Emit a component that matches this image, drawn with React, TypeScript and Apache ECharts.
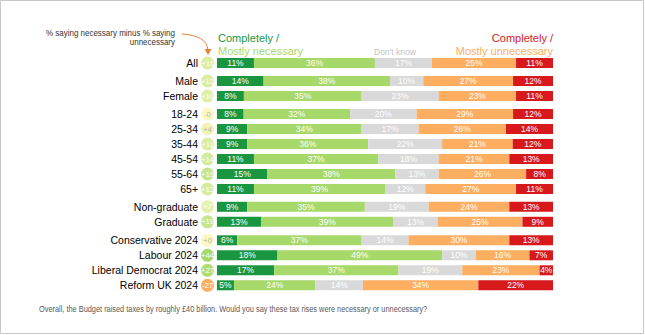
import React, { useEffect, useRef } from "react";
import * as echarts from "echarts";

const categories = [
  "All", "Male", "Female", "18-24", "25-34", "35-44", "45-54", "55-64", "65+",
  "Non-graduate", "Graduate", "Conservative 2024", "Labour 2024", "Liberal Democrat 2024", "Reform UK 2024",
];
const completelyNecessary = [11, 14, 8, 8, 9, 9, 11, 15, 11, 9, 13, 6, 18, 17, 5];
const mostlyNecessary = [36, 38, 35, 32, 34, 36, 37, 38, 39, 35, 39, 37, 49, 37, 24];
const dontKnow = [17, 10, 23, 20, 17, 22, 18, 13, 12, 19, 13, 14, 10, 19, 14];
const mostlyUnnecessary = [25, 27, 23, 29, 26, 21, 21, 26, 27, 24, 25, 30, 16, 23, 34];
const completelyUnnecessary = [11, 12, 11, 12, 14, 12, 13, 8, 11, 13, 9, 13, 7, 4, 22];
const netLabels = ["+11", "+12", "+10", "-0", "+4", "+11", "+14", "+19", "+13", "+7", "+19", "+0", "+44", "+27", "-27"];
const groupSizes = [1, 2, 6, 2, 4];

const FONT = "'Liberation Sans', Arial, sans-serif";
const segments = [
  { name: "Completely necessary", data: completelyNecessary, color: "#1a9641" },
  { name: "Mostly necessary", data: mostlyNecessary, color: "#a6d96a" },
  { name: "Don't know", data: dontKnow, color: "#d9d9d9" },
  { name: "Mostly unnecessary", data: mostlyUnnecessary, color: "#fdae61" },
  { name: "Completely unnecessary", data: completelyUnnecessary, color: "#d7191c" },
];

function hexToRgb(h: string) {
  const v = parseInt(h.slice(1), 16);
  return [(v >> 16) & 255, (v >> 8) & 255, v & 255];
}
function mix(a: string, b: string, t: number) {
  const A = hexToRgb(a), B = hexToRgb(b);
  const c = A.map((x, i) => Math.round(x + (B[i] - x) * t));
  return `rgb(${c[0]},${c[1]},${c[2]})`;
}
function circleColor(n: number) {
  if (n >= 0) return mix("#fbf8c4", "#a6d96a", Math.min(n / 30, 1));
  return mix("#fbf8c4", "#fdae61", Math.min(-n / 25, 1));
}

export default function App() {
  const ref = useRef<HTMLDivElement>(null);
  useEffect(() => {
    if (!ref.current) return;
    const chart = echarts.init(ref.current, undefined, { renderer: "svg" });
    const totals = categories.map((_, i) => segments.reduce((s, seg) => s + seg.data[i], 0));

    const rich: any = {
      n: { fontSize: 10.5, color: "#000", fontFamily: FONT, padding: [0, 3, 0, 0] },
    };
    categories.forEach((_, i) => {
      const n = parseFloat(netLabels[i]);
      rich["c" + i] = {
        width: 13, height: 13, lineHeight: 13, borderRadius: 6.5,
        backgroundColor: circleColor(n),
        color: Math.abs(n) >= 7 ? "#ffffff" : "#b8b8a0",
        fontSize: 8, fontFamily: FONT, align: "center",
      };
    });

    const groupTops = [55.5, 73.5, 106.5, 199.3, 232.8];
    const pitch = 15;
    const grids: any[] = [], xAxes: any[] = [], yAxes: any[] = [], series: any[] = [];
    let start = 0;
    groupSizes.forEach((size, g) => {
      const idx = Array.from({ length: size }, (_, k) => start + k);
      grids.push({ left: 217, right: 92, top: groupTops[g], height: size * pitch });
      xAxes.push({ type: "value", gridIndex: g, min: 0, max: 100, show: false });
      yAxes.push({
        type: "category", gridIndex: g, inverse: true,
        data: idx.map((i) => categories[i]),
        axisLine: { show: false }, axisTick: { show: false }, splitLine: { show: false },
        axisLabel: {
          margin: 3, interval: 0, hideOverlap: false,
          formatter: (v: string) => {
            const i = categories.indexOf(v);
            return `{n|${v}}{c${i}|${netLabels[i]}}`;
          },
          rich,
        },
      });
      segments.forEach((seg) => {
        series.push({
          type: "bar", name: seg.name, xAxisIndex: g, yAxisIndex: g, stack: "s" + g,
          barWidth: 10,
          itemStyle: { color: seg.color },
          data: idx.map((i) => (seg.data[i] * 100) / totals[i]),
          label: {
            show: true, position: "inside", color: "#fff", fontSize: 8.5, fontFamily: FONT,
            formatter: (p: any) => seg.data[idx[p.dataIndex]] + "%",
          },
        });
      });
      start += size;
    });

    chart.setOption({
      animation: false,
      grid: grids, xAxis: xAxes, yAxis: yAxes, series,
      graphic: [
        { type: "rect", shape: { x: 0.5, y: 0.5, width: 643, height: 333 }, style: { fill: "none", stroke: "#c8c8c8", lineWidth: 1 }, silent: true },
        { type: "text", x: 218, y: 38, style: { text: "Completely /", fill: "#1a9641", font: `11px ${FONT}`, textVerticalAlign: "middle" } },
        { type: "text", x: 218, y: 51, style: { text: "Mostly necessary", fill: "#a6d96a", font: `11px ${FONT}`, textVerticalAlign: "middle" } },
        { type: "text", x: 553, y: 38, style: { text: "Completely /", fill: "#d7191c", font: `11px ${FONT}`, textAlign: "right", textVerticalAlign: "middle" } },
        { type: "text", x: 553, y: 51, style: { text: "Mostly unnecessary", fill: "#fdae61", font: `11px ${FONT}`, textAlign: "right", textVerticalAlign: "middle" } },
        { type: "text", x: 374, y: 52, style: { text: "Don't know", fill: "#c4c4c4", font: `8.5px ${FONT}`, textVerticalAlign: "middle" } },
        { type: "text", x: 175, y: 33, scaleX: 0.94, style: { text: "% saying necessary minus % saying", fill: "#333", font: `8.5px ${FONT}`, textAlign: "right", textVerticalAlign: "middle" } },
        { type: "text", x: 175, y: 42.5, scaleX: 0.94, style: { text: "unnecessary", fill: "#333", font: `8.5px ${FONT}`, textAlign: "right", textVerticalAlign: "middle" } },
        { type: "bezierCurve", shape: { x1: 182, y1: 34, cpx1: 198, cpy1: 35, cpx2: 207, cpy2: 40, x2: 208, y2: 50 }, style: { stroke: "#e8813a", lineWidth: 1, fill: "none" } },
        { type: "polygon", shape: { points: [[204.5, 49], [211.5, 49], [208, 55]] }, style: { fill: "#e8813a" } },
        { type: "text", x: 39, y: 309, scaleX: 0.82, style: { text: "Overall, the Budget raised taxes by roughly £40 billion. Would you say these tax rises were necessary or unnecessary?", fill: "#595959", font: `9px ${FONT}`, textVerticalAlign: "middle" } },
      ],
    });
    return () => chart.dispose();
  }, []);
  return <div ref={ref} style={{ position: "absolute", left: 0, top: 0, width: 645, height: 335, background: "#fff" }} />;
}
